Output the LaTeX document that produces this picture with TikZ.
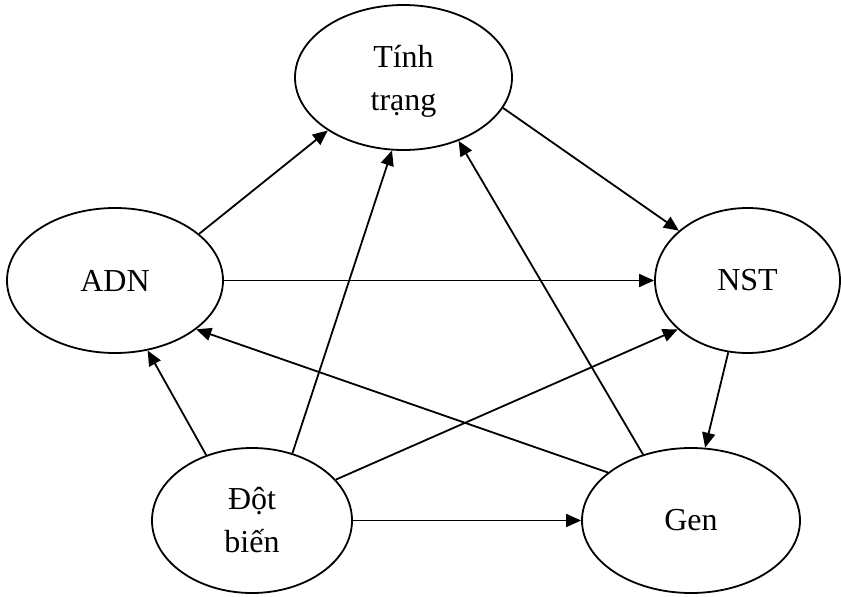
\documentclass[tikz,border=0pt]{standalone}
\usepackage{fontspec}
\setmainfont{Liberation Serif}
\usetikzlibrary{shapes.geometric,arrows.meta}
\begin{document}
\begin{tikzpicture}[x=0.5pt, y=0.5pt,
    every node/.style={font=\fontsize{16}{21.5}\selectfont},
    ell/.style={ellipse, draw, line width=0.9pt, inner sep=0pt, align=center, minimum height=72.5pt},
    arr/.style={-{Triangle[length=7.5pt,width=6.5pt]}, line width=0.9pt}]
    \useasboundingbox (0,0) rectangle (841,596);

    \node[ell, minimum width=108.5pt] (tinh) at (403.5,518.5) {\rule{0pt}{15pt}Tính\\trạng};
    \node[ell, minimum width=108pt] (adn) at (115,315.5) {ADN};
    \node[ell, minimum width=92.5pt] (nst) at (747.5,315.5) {NST};
    \node[ell, minimum width=100pt] (dot) at (252,75.5) {Đột\\biến};
    \node[ell, minimum width=109pt] (gen) at (691,75.5) {Gen};

    \draw[arr] (adn.29.8) -- (tinh.215);
    \draw[arr] (tinh.343) -- (nst.144.7);
    \draw[arr] (adn) -- (nst);
    \draw[arr] (dot.59.3) -- (tinh.261.2);
    \draw[arr] (gen.126.8) -- (tinh.311.7);
    \draw[arr] (nst.255) -- (gen.79.8);
    \draw[arr] (gen.150.2) -- (adn.329.3);
    \draw[arr] (dot.125.7) -- (adn.295.4);
    \draw[arr] (dot.26) -- (nst.215.3);
    \draw[arr] (dot) -- (gen);
\end{tikzpicture}
\end{document}
